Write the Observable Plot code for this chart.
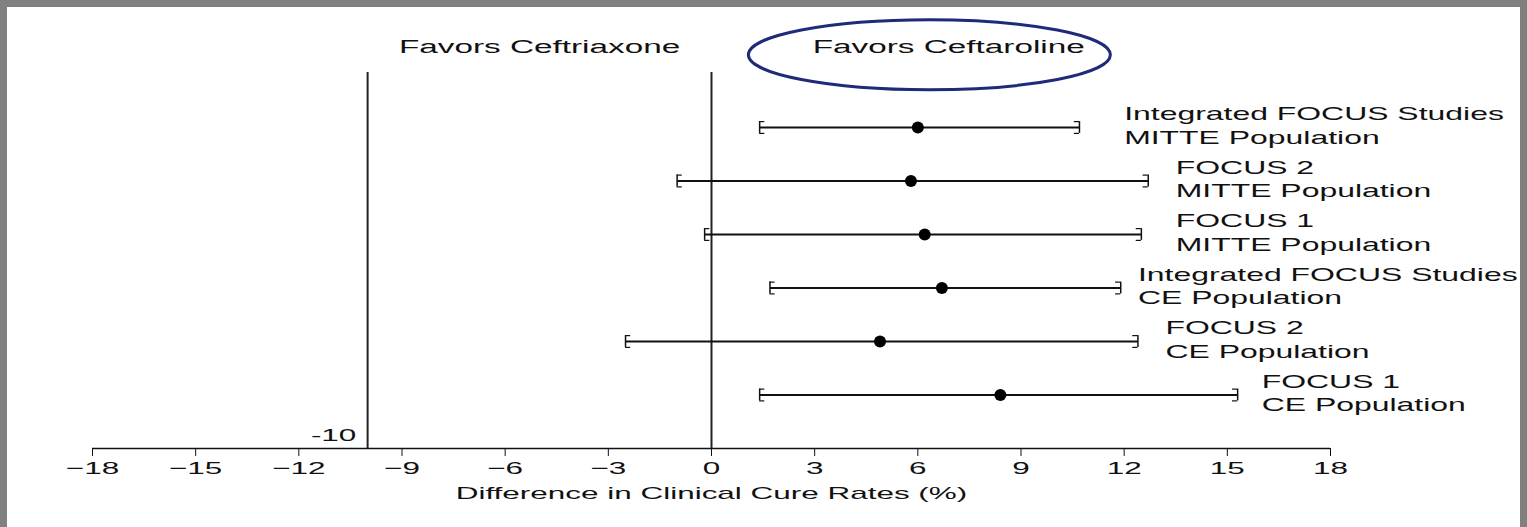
<!DOCTYPE html>
<html><head>
<meta charset="utf-8">
<script src="https://cdn.jsdelivr.net/npm/d3@7"></script>
<script src="https://cdn.jsdelivr.net/npm/@observablehq/plot@0.6"></script>
<style>
body{margin:0;background:#fff;font-family:"Liberation Sans",Arial,sans-serif;}
#wrap{position:relative;width:1527px;height:527px;overflow:hidden;}
#wrap svg.plot{position:absolute;left:0;top:0;}
#frame{position:absolute;left:0;top:0;width:1527px;height:540px;box-sizing:border-box;border:7px solid #808080;pointer-events:none;}
</style></head><body>
<div id="wrap"><div id="frame"></div></div>
<script>
const studies = ["Integrated FOCUS Studies","FOCUS 2","FOCUS 1","Integrated FOCUS Studies","FOCUS 2","FOCUS 1"];
const populations = ["MITTE Population","MITTE Population","MITTE Population","CE Population","CE Population","CE Population"];
const estimate = [6.0, 5.8, 6.2, 6.7, 4.9, 8.4];
const lower = [1.4, -1.0, -0.2, 1.7, -2.5, 1.4];
const upper = [10.7, 12.7, 12.5, 11.9, 12.4, 15.3];
const labelX = [12.0, 13.5, 13.5, 12.4, 13.2, 16.0];
const xTicks = [-18,-15,-12,-9,-6,-3,0,3,6,9,12,15,18];
const margin = -10;

const rows = estimate.map((e,i)=>({i, e, lo:lower[i], hi:upper[i], lx:labelX[i], t:studies[i]+"\n"+populations[i], a:i-0.11, b:i+0.11}));

const chart = Plot.plot({
  width:1527, height:527,
  marginLeft:92, marginRight:197, marginTop:20, marginBottom:79,
  style:{fontFamily:"Liberation Sans, Arial, sans-serif", fontSize:"17px", color:"#111", background:"transparent"},
  x:{type:"linear", domain:[-18,18], ticks:xTicks, tickSize:8, tickPadding:5, label:"Difference in Clinical Cure Rates (%)", labelAnchor:"center", labelArrow:"none", labelOffset:50},
  y:{type:"linear", domain:[-2,6], reverse:true, axis:null},
  marks:[
    Plot.ruleY([6], {x1:-18, x2:18, stroke:"#111", strokeWidth:1.5}),
    Plot.ruleX([margin, 0], {y1:-1.03, y2:6, stroke:"#222", strokeWidth:2}),
    Plot.text([margin], {x:d=>d, y:5.75, text:d=>String(d), dx:-34, fontSize:17}),
    Plot.text(["Favors Ceftriaxone"], {x:-5, y:-1.5, text:d=>d, fontSize:18}),
    Plot.text(["Favors Ceftaroline"], {x:6.9, y:-1.5, text:d=>d, fontSize:18}),
    Plot.link(rows, {x1:"lo", x2:"hi", y1:"i", y2:"i", stroke:"#111", strokeWidth:2}),
    Plot.ruleX(rows, {x:"lo", y1:"a", y2:"b", stroke:"#111", strokeWidth:1.5}),
    Plot.ruleX(rows, {x:"hi", y1:"a", y2:"b", stroke:"#111", strokeWidth:1.5}),
    Plot.ruleY(rows, {y:"a", x1:"lo", x2:d=>d.lo+0.15, stroke:"#111", strokeWidth:1.2}),
    Plot.ruleY(rows, {y:"b", x1:"lo", x2:d=>d.lo+0.15, stroke:"#111", strokeWidth:1.2}),
    Plot.ruleY(rows, {y:"a", x1:"hi", x2:d=>d.hi-0.15, stroke:"#111", strokeWidth:1.2}),
    Plot.ruleY(rows, {y:"b", x1:"hi", x2:d=>d.hi-0.15, stroke:"#111", strokeWidth:1.2}),
    Plot.dot(rows, {x:"e", y:"i", r:6, fill:"#000"}),
    Plot.text(rows, {x:"lx", y:"i", text:"t", textAnchor:"start", lineAnchor:"middle", lineHeight:1.25, dy:-3, fontSize:19, className:"rowlab"})
  ]
});
document.getElementById("wrap").insertBefore(chart, document.getElementById("frame"));
// horizontally stretch text to match the wide lettering of the reference
chart.querySelectorAll("text").forEach(t=>{
  const isRow = t.closest(".rowlab") !== null;
  const f = isRow ? 1.68 : 1.85;
  const parts = t.querySelectorAll("tspan");
  const els = parts.length ? parts : [t];
  els.forEach(el=>{
    const w = el.getComputedTextLength();
    if (w>0){ el.setAttribute("textLength", w*f); el.setAttribute("lengthAdjust","spacingAndGlyphs"); }
  });
});
const xs = d3.scaleLinear([-18,18],[92,1330]);
const ys = d3.scaleLinear([-2,6],[20,448]);
d3.select(chart).append("ellipse").attr("cx", xs(6.35)).attr("cy", ys(-1.35)).attr("rx",181).attr("ry",35)
  .attr("fill","none").attr("stroke","#1f2a78").attr("stroke-width",3);
</script>
</body></html>
